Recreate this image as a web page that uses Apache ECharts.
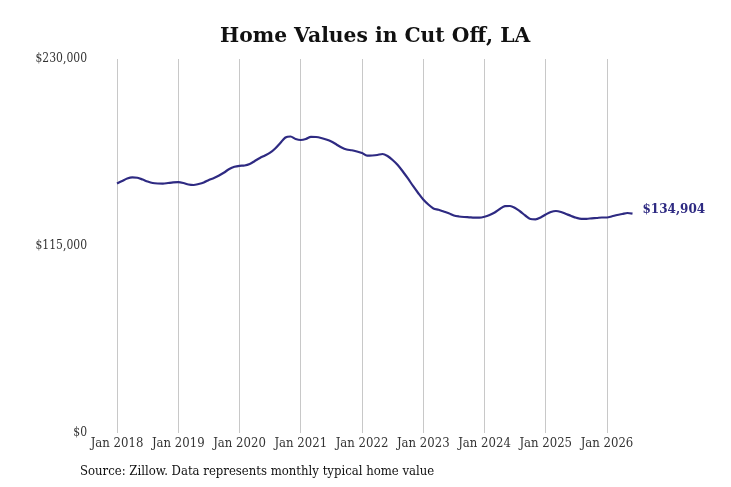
<!DOCTYPE html>
<html>
<head>
<meta charset="utf-8">
<script src="https://cdn.jsdelivr.net/npm/echarts@6/dist/echarts.min.js"></script>
<style>
html,body{margin:0;padding:0;background:#fff;}
#c{width:731px;height:487px;}
</style>
</head>
<body>
<div id="c"></div>
<script>
const years = [2018, 2019, 2020, 2021, 2022, 2023, 2024, 2025, 2026];
const monthsInLastYear = 6;
const values2018 = [153440,154980,156520,157260,156950,155900,154670,153750,153440,153380,153750,154120];
const values2019 = [154240,153750,152830,152520,153140,154060,155600,156830,158360,160210,162360,163710];
const values2020 = [164330,164510,165430,167280,169130,170660,172380,174970,178350,181730,182350,180810];
const values2021 = [180200,180810,182160,182040,181420,180500,179270,177430,175580,174350,173860,173120];
const values2022 = [172200,170540,170660,170970,171590,170360,167900,164820,160820,156520,151910,147600];
const values2023 = [143600,140530,138070,137270,136220,135170,133760,133150,132840,132660,132470,132470];
const values2024 = [133020,134070,135610,137760,139480,139610,138380,136220,133760,131610,131420,132530];
const values2025 = [134380,135920,136530,135920,134690,133460,132350,131730,131730,132040,132230,132530];
const values2026 = [132530,133270,134070,134690,135300,134904];
const yTicks = [0, 115000, 230000];

const values = [].concat(values2018, values2019, values2020, values2021, values2022, values2023, values2024, values2025, values2026);
const monthNames = ['Jan','Feb','Mar','Apr','May','Jun','Jul','Aug','Sep','Oct','Nov','Dec'];
const categories = [];
years.forEach((y, i) => {
  const n = (i === years.length - 1) ? monthsInLastYear : 12;
  for (let m = 0; m < n; m++) categories.push(monthNames[m] + ' ' + y);
});

const fmt = v => '$' + v.toLocaleString('en-US');
const serif = "'DejaVu Serif Condensed', 'DejaVu Serif', serif";

const chart = echarts.init(document.getElementById('c'), null, {renderer: 'canvas'});
chart.setOption({
  animation: false,
  backgroundColor: '#fff',
  title: {
    text: 'Home Values in Cut Off, LA',
    left: 215,
    top: 22,
    textStyle: {fontFamily: "'DejaVu Serif', serif", fontWeight: 'bold', fontSize: 20.3, color: '#111'}
  },
  graphic: [{
    type: 'text',
    left: 80,
    top: 465,
    style: {text: 'Source: Zillow. Data represents monthly typical home value', font: "13px " + serif, fill: '#111'}
  }],
  grid: {left: 117, top: 59, width: 515.5, height: 374, containLabel: false},
  xAxis: {
    type: 'category',
    data: categories,
    boundaryGap: false,
    axisLine: {show: false},
    axisTick: {show: false},
    axisLabel: {
      interval: (i) => i % 12 === 0,
      formatter: v => v,
      fontFamily: serif, fontSize: 13, color: '#333', margin: 4
    },
    splitLine: {show: true, interval: (i) => i % 12 === 0, lineStyle: {color: '#c8c8c8', width: 1}}
  },
  yAxis: {
    type: 'value',
    min: yTicks[0],
    max: yTicks[2],
    interval: yTicks[1],
    axisLine: {show: false},
    axisTick: {show: false},
    splitLine: {show: false},
    axisLabel: {formatter: fmt, fontFamily: serif, fontSize: 12, color: '#333', margin: 30}
  },
  series: [{
    type: 'line',
    data: values,
    smooth: 0.3,
    showSymbol: false,
    lineStyle: {color: '#2e2a82', width: 2.2},
    itemStyle: {color: '#2e2a82'},
    endLabel: {
      show: true,
      formatter: p => fmt(p.value),
      color: '#2e2a82',
      fontFamily: "'DejaVu Serif', serif",
      fontWeight: 'bold',
      fontSize: 12,
      distance: 10,
      offset: [0, -4]
    }
  }]
});
</script>
</body>
</html>
